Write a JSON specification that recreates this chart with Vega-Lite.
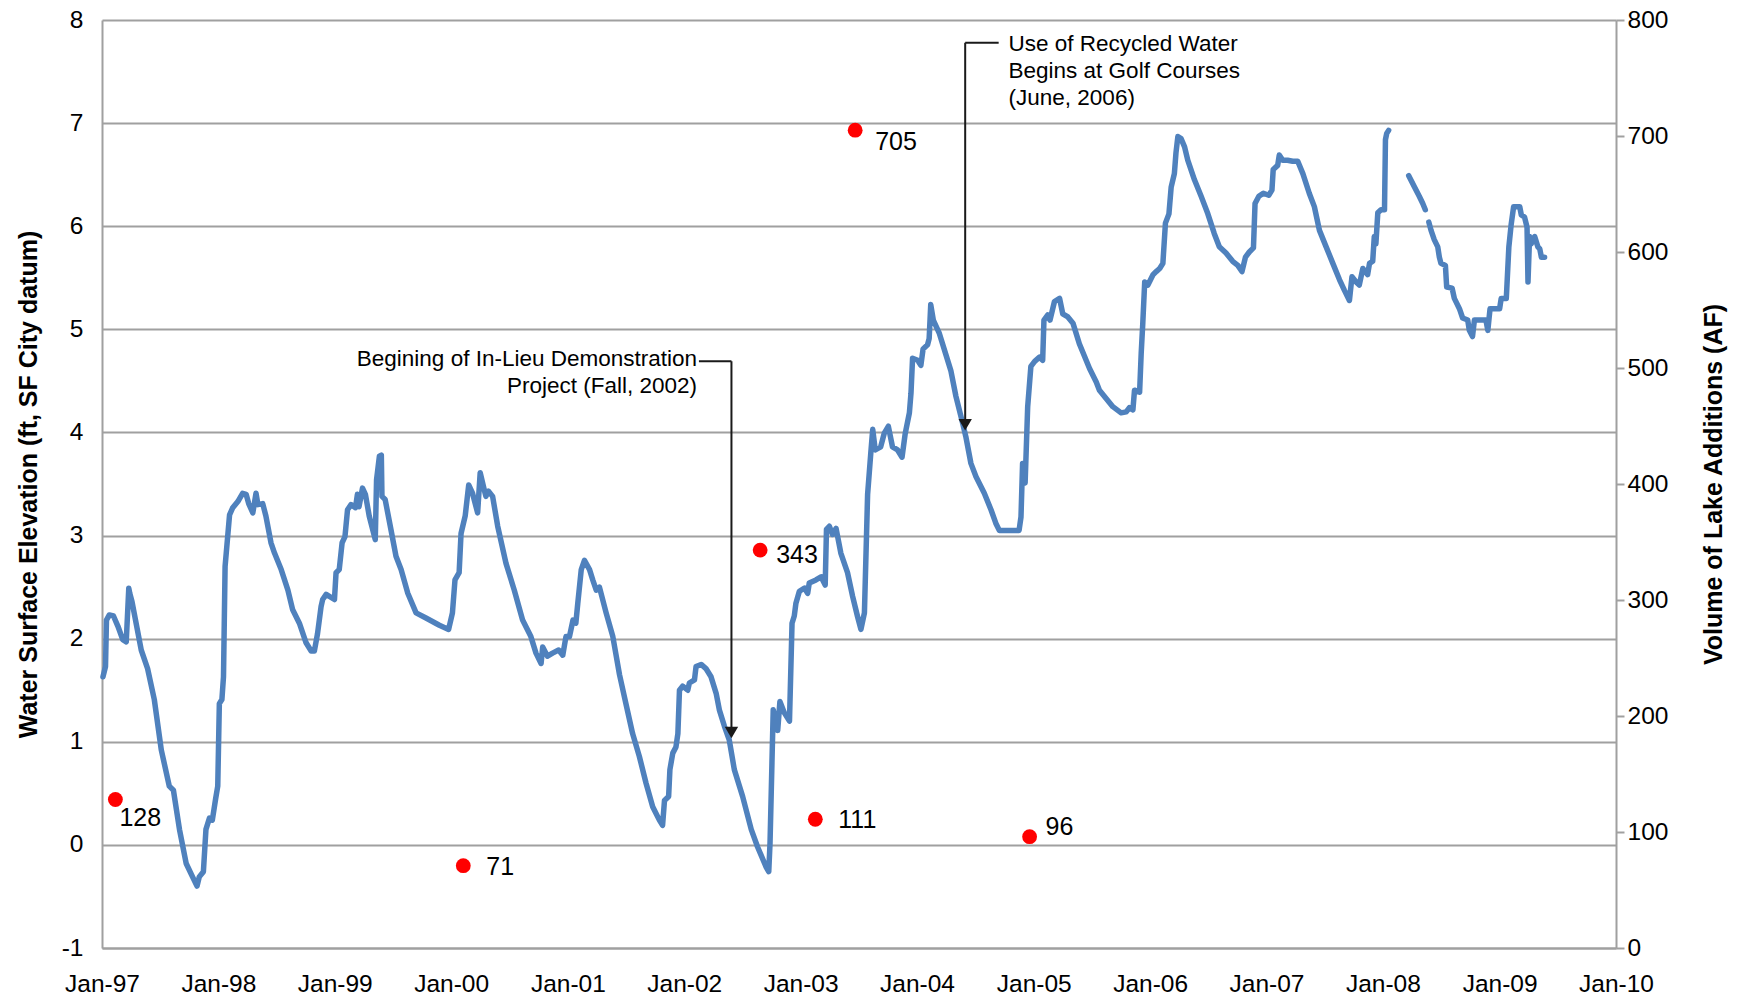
{
  "$schema": "https://vega.github.io/schema/vega-lite/v6.json",
  "width": 1514,
  "height": 928,
  "autosize": {"type": "none"},
  "padding": {"left": 102, "top": 20, "right": 129, "bottom": 53},
  "background": "white",
  "config": {
    "view": {"stroke": null},
    "font": "Liberation Sans",
    "text": {"font": "Liberation Sans"},
    "axis": {"labelFont": "Liberation Sans", "titleFont": "Liberation Sans", "labelColor": "#000000", "titleColor": "#000000"}
  },
  "datasets": {
    "elev": [
      {"date":"1997-01-04","elev":1.63},{"date":"1997-01-12","elev":1.73},{"date":"1997-01-15","elev":2.18},{"date":"1997-01-24","elev":2.23},
      {"date":"1997-02-06","elev":2.22},{"date":"1997-02-20","elev":2.12},{"date":"1997-03-07","elev":1.99},{"date":"1997-03-18","elev":1.97},
      {"date":"1997-03-26","elev":2.49},{"date":"1997-03-29","elev":2.44},{"date":"1997-04-05","elev":2.36},{"date":"1997-05-04","elev":1.89},
      {"date":"1997-05-24","elev":1.71},{"date":"1997-06-14","elev":1.41},{"date":"1997-07-06","elev":0.92},{"date":"1997-07-31","elev":0.57},
      {"date":"1997-08-13","elev":0.53},{"date":"1997-09-01","elev":0.15},{"date":"1997-09-22","elev":-0.18},{"date":"1997-10-12","elev":-0.31},
      {"date":"1997-10-26","elev":-0.40},{"date":"1997-11-02","elev":-0.31},{"date":"1997-11-15","elev":-0.26},{"date":"1997-11-23","elev":0.15},
      {"date":"1997-12-04","elev":0.26},{"date":"1997-12-13","elev":0.24},{"date":"1997-12-23","elev":0.44},{"date":"1997-12-30","elev":0.57},
      {"date":"1998-01-04","elev":1.37},{"date":"1998-01-12","elev":1.41},{"date":"1998-01-17","elev":1.63},{"date":"1998-01-22","elev":2.70},
      {"date":"1998-02-05","elev":3.20},{"date":"1998-02-15","elev":3.27},{"date":"1998-03-03","elev":3.33},{"date":"1998-03-18","elev":3.41},
      {"date":"1998-03-29","elev":3.40},{"date":"1998-04-06","elev":3.31},{"date":"1998-04-19","elev":3.22},{"date":"1998-04-29","elev":3.41},
      {"date":"1998-05-05","elev":3.30},{"date":"1998-05-20","elev":3.31},{"date":"1998-05-30","elev":3.19},{"date":"1998-06-15","elev":2.93},
      {"date":"1998-06-26","elev":2.83},{"date":"1998-07-17","elev":2.67},{"date":"1998-08-07","elev":2.47},{"date":"1998-08-22","elev":2.28},
      {"date":"1998-09-12","elev":2.15},{"date":"1998-10-03","elev":1.96},{"date":"1998-10-19","elev":1.88},{"date":"1998-10-29","elev":1.88},
      {"date":"1998-11-08","elev":2.05},{"date":"1998-11-19","elev":2.31},{"date":"1998-11-24","elev":2.38},{"date":"1998-12-05","elev":2.43},
      {"date":"1998-12-31","elev":2.38},{"date":"1999-01-05","elev":2.64},{"date":"1999-01-15","elev":2.67},{"date":"1999-01-24","elev":2.93},
      {"date":"1999-02-02","elev":2.99},{"date":"1999-02-10","elev":3.25},{"date":"1999-02-21","elev":3.30},{"date":"1999-03-07","elev":3.27},
      {"date":"1999-03-13","elev":3.40},{"date":"1999-03-18","elev":3.28},{"date":"1999-03-29","elev":3.46},{"date":"1999-04-07","elev":3.40},
      {"date":"1999-04-19","elev":3.19},{"date":"1999-05-08","elev":2.96},{"date":"1999-05-12","elev":3.54},{"date":"1999-05-21","elev":3.77},
      {"date":"1999-05-27","elev":3.78},{"date":"1999-05-29","elev":3.38},{"date":"1999-06-08","elev":3.35},{"date":"1999-06-26","elev":3.06},
      {"date":"1999-07-12","elev":2.80},{"date":"1999-07-28","elev":2.67},{"date":"1999-08-18","elev":2.44},{"date":"1999-09-13","elev":2.25},
      {"date":"1999-10-14","elev":2.20},{"date":"1999-11-25","elev":2.13},{"date":"1999-12-24","elev":2.09},{"date":"2000-01-05","elev":2.25},
      {"date":"2000-01-13","elev":2.57},{"date":"2000-01-26","elev":2.64},{"date":"2000-02-01","elev":3.02},{"date":"2000-02-14","elev":3.19},
      {"date":"2000-02-25","elev":3.49},{"date":"2000-03-08","elev":3.41},{"date":"2000-03-24","elev":3.22},{"date":"2000-04-01","elev":3.61},
      {"date":"2000-04-14","elev":3.44},{"date":"2000-04-19","elev":3.38},{"date":"2000-04-27","elev":3.43},{"date":"2000-05-10","elev":3.38},
      {"date":"2000-05-26","elev":3.09},{"date":"2000-06-21","elev":2.73},{"date":"2000-07-17","elev":2.47},{"date":"2000-08-12","elev":2.18},
      {"date":"2000-09-07","elev":2.02},{"date":"2000-09-23","elev":1.86},{"date":"2000-10-09","elev":1.76},{"date":"2000-10-14","elev":1.92},
      {"date":"2000-10-29","elev":1.83},{"date":"2000-11-14","elev":1.86},{"date":"2000-12-03","elev":1.89},{"date":"2000-12-16","elev":1.84},
      {"date":"2000-12-26","elev":2.02},{"date":"2001-01-06","elev":2.02},{"date":"2001-01-17","elev":2.18},{"date":"2001-01-26","elev":2.15},
      {"date":"2001-02-01","elev":2.34},{"date":"2001-02-12","elev":2.67},{"date":"2001-02-22","elev":2.76},{"date":"2001-03-10","elev":2.67},
      {"date":"2001-03-20","elev":2.57},{"date":"2001-03-31","elev":2.47},{"date":"2001-04-10","elev":2.50},{"date":"2001-05-01","elev":2.25},
      {"date":"2001-05-22","elev":2.02},{"date":"2001-06-12","elev":1.65},{"date":"2001-07-02","elev":1.37},{"date":"2001-07-23","elev":1.08},
      {"date":"2001-08-13","elev":0.86},{"date":"2001-09-03","elev":0.60},{"date":"2001-09-24","elev":0.37},{"date":"2001-10-15","elev":0.24},
      {"date":"2001-10-25","elev":0.19},{"date":"2001-10-31","elev":0.43},{"date":"2001-11-13","elev":0.47},{"date":"2001-11-17","elev":0.73},
      {"date":"2001-11-26","elev":0.89},{"date":"2001-12-06","elev":0.95},{"date":"2001-12-12","elev":1.08},{"date":"2001-12-17","elev":1.50},
      {"date":"2001-12-27","elev":1.54},{"date":"2002-01-12","elev":1.50},{"date":"2002-01-17","elev":1.57},{"date":"2002-02-02","elev":1.60},
      {"date":"2002-02-07","elev":1.73},{"date":"2002-02-23","elev":1.75},{"date":"2002-03-10","elev":1.71},{"date":"2002-03-26","elev":1.63},
      {"date":"2002-04-11","elev":1.47},{"date":"2002-04-21","elev":1.31},{"date":"2002-05-07","elev":1.15},{"date":"2002-05-22","elev":1.02},
      {"date":"2002-06-07","elev":0.73},{"date":"2002-07-03","elev":0.47},{"date":"2002-07-30","elev":0.15},{"date":"2002-08-19","elev":-0.02},
      {"date":"2002-09-14","elev":-0.21},{"date":"2002-09-23","elev":-0.26},{"date":"2002-09-27","elev":0.02},{"date":"2002-10-07","elev":1.31},
      {"date":"2002-10-21","elev":1.11},{"date":"2002-10-28","elev":1.39},{"date":"2002-11-11","elev":1.28},{"date":"2002-11-27","elev":1.20},
      {"date":"2002-12-05","elev":2.15},{"date":"2002-12-12","elev":2.22},{"date":"2002-12-17","elev":2.34},{"date":"2002-12-28","elev":2.46},
      {"date":"2003-01-13","elev":2.49},{"date":"2003-01-23","elev":2.44},{"date":"2003-01-28","elev":2.54},{"date":"2003-02-18","elev":2.57},
      {"date":"2003-03-06","elev":2.60},{"date":"2003-03-19","elev":2.52},{"date":"2003-03-23","elev":3.06},{"date":"2003-04-01","elev":3.09},
      {"date":"2003-04-11","elev":3.01},{"date":"2003-04-22","elev":3.07},{"date":"2003-05-07","elev":2.83},{"date":"2003-05-28","elev":2.64},
      {"date":"2003-06-13","elev":2.41},{"date":"2003-06-28","elev":2.22},{"date":"2003-07-09","elev":2.09},{"date":"2003-07-20","elev":2.25},
      {"date":"2003-07-30","elev":3.40},{"date":"2003-08-09","elev":3.80},{"date":"2003-08-15","elev":4.03},{"date":"2003-08-23","elev":3.83},
      {"date":"2003-09-09","elev":3.86},{"date":"2003-09-20","elev":3.99},{"date":"2003-10-03","elev":4.06},{"date":"2003-10-16","elev":3.86},
      {"date":"2003-11-01","elev":3.83},{"date":"2003-11-15","elev":3.76},{"date":"2003-11-25","elev":3.99},{"date":"2003-12-08","elev":4.19},
      {"date":"2003-12-13","elev":4.38},{"date":"2003-12-18","elev":4.72},{"date":"2004-01-03","elev":4.70},{"date":"2004-01-13","elev":4.65},
      {"date":"2004-01-20","elev":4.81},{"date":"2004-02-03","elev":4.85},{"date":"2004-02-08","elev":4.91},{"date":"2004-02-13","elev":5.24},
      {"date":"2004-02-21","elev":5.09},{"date":"2004-03-11","elev":4.96},{"date":"2004-04-01","elev":4.75},{"date":"2004-04-16","elev":4.60},
      {"date":"2004-05-02","elev":4.35},{"date":"2004-05-23","elev":4.09},{"date":"2004-06-02","elev":3.96},{"date":"2004-06-18","elev":3.70},
      {"date":"2004-07-04","elev":3.57},{"date":"2004-07-30","elev":3.41},{"date":"2004-08-20","elev":3.25},{"date":"2004-09-04","elev":3.12},
      {"date":"2004-09-15","elev":3.05},{"date":"2004-11-16","elev":3.05},{"date":"2004-11-22","elev":3.18},{"date":"2004-11-27","elev":3.70},
      {"date":"2004-12-05","elev":3.51},{"date":"2004-12-13","elev":4.25},{"date":"2004-12-23","elev":4.64},{"date":"2005-01-04","elev":4.69},
      {"date":"2005-01-19","elev":4.73},{"date":"2005-01-29","elev":4.70},{"date":"2005-02-02","elev":5.09},{"date":"2005-02-14","elev":5.14},
      {"date":"2005-02-21","elev":5.09},{"date":"2005-03-07","elev":5.27},{"date":"2005-03-23","elev":5.30},{"date":"2005-04-02","elev":5.15},
      {"date":"2005-04-18","elev":5.12},{"date":"2005-05-04","elev":5.06},{"date":"2005-05-24","elev":4.86},{"date":"2005-06-25","elev":4.62},
      {"date":"2005-07-16","elev":4.49},{"date":"2005-07-26","elev":4.41},{"date":"2005-08-16","elev":4.33},{"date":"2005-09-06","elev":4.25},
      {"date":"2005-10-02","elev":4.19},{"date":"2005-10-18","elev":4.20},{"date":"2005-10-28","elev":4.24},{"date":"2005-11-08","elev":4.22},
      {"date":"2005-11-13","elev":4.41},{"date":"2005-11-29","elev":4.39},{"date":"2005-12-04","elev":4.77},{"date":"2005-12-09","elev":5.06},
      {"date":"2005-12-15","elev":5.46},{"date":"2005-12-25","elev":5.43},{"date":"2006-01-10","elev":5.53},{"date":"2006-01-20","elev":5.56},
      {"date":"2006-01-31","elev":5.59},{"date":"2006-02-10","elev":5.64},{"date":"2006-02-18","elev":6.03},{"date":"2006-03-01","elev":6.12},
      {"date":"2006-03-08","elev":6.38},{"date":"2006-03-18","elev":6.51},{"date":"2006-03-23","elev":6.71},{"date":"2006-03-29","elev":6.87},
      {"date":"2006-04-08","elev":6.85},{"date":"2006-04-19","elev":6.77},{"date":"2006-04-29","elev":6.64},{"date":"2006-05-20","elev":6.45},
      {"date":"2006-06-10","elev":6.29},{"date":"2006-07-01","elev":6.12},{"date":"2006-07-21","elev":5.93},{"date":"2006-08-06","elev":5.80},
      {"date":"2006-08-27","elev":5.74},{"date":"2006-09-17","elev":5.66},{"date":"2006-10-03","elev":5.62},{"date":"2006-10-16","elev":5.56},
      {"date":"2006-10-27","elev":5.70},{"date":"2006-11-08","elev":5.75},{"date":"2006-11-21","elev":5.79},{"date":"2006-11-26","elev":6.22},
      {"date":"2006-12-08","elev":6.29},{"date":"2006-12-22","elev":6.32},{"date":"2007-01-08","elev":6.30},{"date":"2007-01-18","elev":6.35},
      {"date":"2007-01-22","elev":6.55},{"date":"2007-02-05","elev":6.59},{"date":"2007-02-10","elev":6.69},{"date":"2007-02-21","elev":6.64},
      {"date":"2007-03-08","elev":6.64},{"date":"2007-03-24","elev":6.63},{"date":"2007-04-09","elev":6.63},{"date":"2007-04-25","elev":6.51},
      {"date":"2007-05-15","elev":6.32},{"date":"2007-05-31","elev":6.19},{"date":"2007-06-16","elev":5.96},{"date":"2007-07-07","elev":5.80},
      {"date":"2007-07-28","elev":5.64},{"date":"2007-08-18","elev":5.48},{"date":"2007-09-02","elev":5.38},{"date":"2007-09-18","elev":5.28},
      {"date":"2007-09-26","elev":5.51},{"date":"2007-10-09","elev":5.46},{"date":"2007-10-19","elev":5.43},{"date":"2007-10-30","elev":5.59},
      {"date":"2007-11-14","elev":5.53},{"date":"2007-11-20","elev":5.64},{"date":"2007-11-30","elev":5.66},{"date":"2007-12-05","elev":5.90},
      {"date":"2007-12-10","elev":5.83},{"date":"2007-12-16","elev":6.13},{"date":"2007-12-26","elev":6.16},{"date":"2008-01-06","elev":6.16},
      {"date":"2008-01-09","elev":6.84},{"date":"2008-01-13","elev":6.90},{"date":"2008-01-19","elev":6.93},
      {"date":"2008-03-22","elev":6.49,"seg":2},{"date":"2008-04-09","elev":6.38,"seg":2},{"date":"2008-04-24","elev":6.29,"seg":2},
      {"date":"2008-05-05","elev":6.22,"seg":2},{"date":"2008-05-13","elev":6.16,"seg":2},
      {"date":"2008-05-24","elev":6.04,"seg":3},{"date":"2008-05-31","elev":5.96,"seg":3},{"date":"2008-06-10","elev":5.87,"seg":3},
      {"date":"2008-06-21","elev":5.80,"seg":3},{"date":"2008-06-26","elev":5.70,"seg":3},{"date":"2008-07-01","elev":5.64,"seg":3},
      {"date":"2008-07-15","elev":5.62,"seg":3},{"date":"2008-07-19","elev":5.41,"seg":3},{"date":"2008-08-05","elev":5.40,"seg":3},
      {"date":"2008-08-12","elev":5.30,"seg":3},{"date":"2008-08-28","elev":5.20,"seg":3},{"date":"2008-09-07","elev":5.11,"seg":3},
      {"date":"2008-09-23","elev":5.09,"seg":3},{"date":"2008-09-28","elev":4.99,"seg":3},{"date":"2008-10-08","elev":4.93,"seg":3},
      {"date":"2008-10-14","elev":5.09,"seg":3},{"date":"2008-11-19","elev":5.09,"seg":3},{"date":"2008-11-25","elev":4.99,"seg":3},
      {"date":"2008-12-02","elev":5.20,"seg":3},{"date":"2009-01-01","elev":5.20,"seg":3},{"date":"2009-01-06","elev":5.30,"seg":3},
      {"date":"2009-01-22","elev":5.30,"seg":3},{"date":"2009-01-30","elev":5.80,"seg":3},{"date":"2009-02-06","elev":6.01,"seg":3},
      {"date":"2009-02-14","elev":6.19,"seg":3},{"date":"2009-03-05","elev":6.19,"seg":3},{"date":"2009-03-10","elev":6.11,"seg":3},
      {"date":"2009-03-20","elev":6.09,"seg":3},{"date":"2009-03-28","elev":5.99,"seg":3},{"date":"2009-03-31","elev":5.46,"seg":3},
      {"date":"2009-04-05","elev":5.90,"seg":3},{"date":"2009-04-10","elev":5.83,"seg":3},{"date":"2009-04-21","elev":5.90,"seg":3},
      {"date":"2009-05-01","elev":5.80,"seg":3},{"date":"2009-05-07","elev":5.78,"seg":3},{"date":"2009-05-12","elev":5.70,"seg":3},
      {"date":"2009-05-22","elev":5.70,"seg":3}
    ],
    "additions": [
      {"date":"1997-02-12","volume":128},
      {"date":"2000-02-08","volume":71},
      {"date":"2002-08-27","volume":343},
      {"date":"2003-02-16","volume":111},
      {"date":"2003-06-21","volume":705},
      {"date":"2004-12-19","volume":96}
    ],
    "leaders": [
      {"date":"2002-02-16","date2":"2002-05-29","elev":4.69,"elev2":4.69},
      {"date":"2002-05-29","date2":"2002-05-29","elev":4.69,"elev2":1.12},
      {"date":"2004-05-31","date2":"2004-09-13","elev":7.78,"elev2":7.78},
      {"date":"2004-05-31","date2":"2004-05-31","elev":7.78,"elev2":4.10}
    ],
    "heads": [
      {"date":"2002-05-29","elev":1.09},
      {"date":"2004-05-31","elev":4.075}
    ],
    "noteLeft": [
      {"date":"2002-02-10","elev":4.71,"text":"Begining of In-Lieu Demonstration"},
      {"date":"2002-02-10","elev":4.45,"text":"Project (Fall, 2002)"}
    ],
    "noteRight": [
      {"date":"2004-10-14","elev":7.77,"text":"Use of Recycled Water"},
      {"date":"2004-10-14","elev":7.51,"text":"Begins at Golf Courses"},
      {"date":"2004-10-14","elev":7.24,"text":"(June, 2006)"}
    ]
  },
  "encoding": {
    "x": {
      "field": "date", "type": "temporal",
      "scale": {"type": "utc", "domain": [{"year": 1997, "month": 1, "date": 1, "utc": true}, {"year": 2010, "month": 1, "date": 1, "utc": true}]},
      "axis": {
        "title": null, "format": "%b-%y",
        "values": [
          {"year": 1997, "month": 1, "date": 1, "utc": true}, {"year": 1998, "month": 1, "date": 1, "utc": true},
          {"year": 1999, "month": 1, "date": 1, "utc": true}, {"year": 2000, "month": 1, "date": 1, "utc": true},
          {"year": 2001, "month": 1, "date": 1, "utc": true}, {"year": 2002, "month": 1, "date": 1, "utc": true},
          {"year": 2003, "month": 1, "date": 1, "utc": true}, {"year": 2004, "month": 1, "date": 1, "utc": true},
          {"year": 2005, "month": 1, "date": 1, "utc": true}, {"year": 2006, "month": 1, "date": 1, "utc": true},
          {"year": 2007, "month": 1, "date": 1, "utc": true}, {"year": 2008, "month": 1, "date": 1, "utc": true},
          {"year": 2009, "month": 1, "date": 1, "utc": true}, {"year": 2010, "month": 1, "date": 1, "utc": true}
        ],
        "ticks": false, "grid": false, "labelFontSize": 24.5, "labelPadding": 24,
        "domainColor": "#a0a0a0", "domainWidth": 2, "labelOverlap": false, "labelFlush": false, "labelBound": false
      }
    }
  },
  "layer": [
    {
      "encoding": {
        "y": {
          "field": "elev", "type": "quantitative",
          "scale": {"domain": [-1, 8], "nice": false, "zero": false},
          "axis": {
            "title": "Water Surface Elevation (ft, SF City datum)",
            "values": [-1, 0, 1, 2, 3, 4, 5, 6, 7, 8],
            "labelExpr": "'' + datum.value",
            "grid": true, "gridColor": "#a0a0a0", "gridWidth": 2,
            "ticks": false, "domainColor": "#a0a0a0", "domainWidth": 2,
            "labelFontSize": 24.5, "labelPadding": 19,
            "titleFontSize": 25, "titleFontWeight": "bold", "titlePadding": 20
          }
        }
      },
      "layer": [
        {
          "data": {"name": "elev"},
          "mark": {"type": "line", "color": "#4F81BD", "strokeWidth": 5.5, "strokeJoin": "round", "strokeCap": "round"},
          "encoding": {"detail": {"field": "seg"}}
        },
        {
          "data": {"name": "leaders"},
          "mark": {"type": "rule", "color": "#1a1a1a", "strokeWidth": 2},
          "encoding": {"x2": {"field": "date2"}, "y2": {"field": "elev2"}}
        },
        {
          "data": {"name": "heads"},
          "mark": {"type": "point", "shape": "triangle-down", "filled": true, "color": "#1a1a1a", "size": 180, "opacity": 1},
          "encoding": {}
        },
        {
          "data": {"name": "noteLeft"},
          "mark": {"type": "text", "align": "right", "baseline": "middle", "fontSize": 22.5, "color": "#000000"},
          "encoding": {"text": {"field": "text"}}
        },
        {
          "data": {"name": "noteRight"},
          "mark": {"type": "text", "align": "left", "baseline": "middle", "fontSize": 22.5, "color": "#000000"},
          "encoding": {"text": {"field": "text"}}
        }
      ]
    },
    {
      "data": {"name": "additions"},
      "encoding": {
        "y": {
          "field": "volume", "type": "quantitative",
          "scale": {"domain": [0, 800], "nice": false},
          "axis": {
            "orient": "right", "title": "Volume of Lake Additions (AF)",
            "values": [0, 100, 200, 300, 400, 500, 600, 700, 800], "format": "d",
            "grid": false, "ticks": true, "tickSize": 8, "tickColor": "#a0a0a0", "tickWidth": 2,
            "domainColor": "#a0a0a0", "domainWidth": 2,
            "labelFontSize": 24.5, "labelPadding": 3,
            "titleFontSize": 25, "titleFontWeight": "bold", "titleAngle": 270, "titlePadding": 59
          }
        }
      },
      "layer": [
        {
          "mark": {"type": "circle", "color": "#ff0000", "size": 220, "opacity": 1}
        },
        {
          "transform": [{"filter": "datum.volume == 71 || datum.volume == 111"}],
          "mark": {"type": "text", "align": "left", "baseline": "middle", "fontSize": 25, "dx": 23, "dy": 1, "color": "#000000"},
          "encoding": {"text": {"field": "volume"}}
        },
        {
          "transform": [{"filter": "datum.volume == 343"}],
          "mark": {"type": "text", "align": "left", "baseline": "middle", "fontSize": 25, "dx": 16, "dy": 5, "color": "#000000"},
          "encoding": {"text": {"field": "volume"}}
        },
        {
          "transform": [{"filter": "datum.volume == 705"}],
          "mark": {"type": "text", "align": "left", "baseline": "middle", "fontSize": 25, "dx": 20, "dy": 12, "color": "#000000"},
          "encoding": {"text": {"field": "volume"}}
        },
        {
          "transform": [{"filter": "datum.volume == 96"}],
          "mark": {"type": "text", "align": "left", "baseline": "middle", "fontSize": 25, "dx": 16, "dy": -10, "color": "#000000"},
          "encoding": {"text": {"field": "volume"}}
        },
        {
          "transform": [{"filter": "datum.volume == 128"}],
          "mark": {"type": "text", "align": "left", "baseline": "middle", "fontSize": 25, "dx": 4, "dy": 18, "color": "#000000"},
          "encoding": {"text": {"field": "volume"}}
        }
      ]
    }
  ],
  "resolve": {"scale": {"y": "independent"}}
}
